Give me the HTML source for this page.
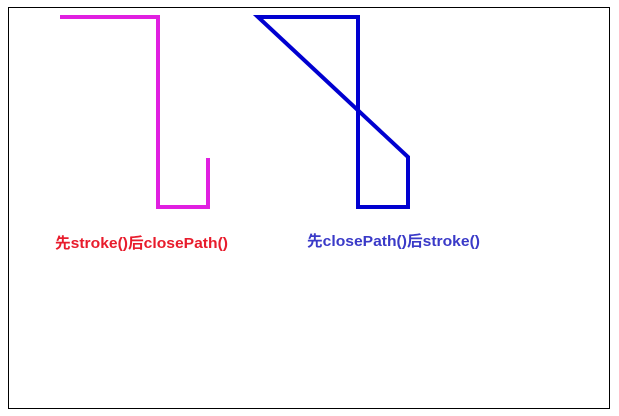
<!DOCTYPE html>
<html><head><meta charset="utf-8"><style>
html,body{margin:0;padding:0;background:#fff;width:619px;height:416px;overflow:hidden}
</style></head><body>
<svg width="619" height="416" xmlns="http://www.w3.org/2000/svg">
<rect x="8.5" y="7.5" width="601" height="401" fill="#fff" stroke="#000" stroke-width="1"/>
<polyline points="60,17 158,17 158,207 208,207 208,158" fill="none" stroke="#e020e0" stroke-width="4" stroke-linejoin="miter"/>
<polygon points="258,17 358,17 358,207 408,207 408,157" fill="none" stroke="#0000d0" stroke-width="4" stroke-linejoin="miter"/>
<text x="55" y="248" font-family="'Liberation Sans','Noto Sans CJK SC',sans-serif" font-weight="bold" font-size="15" fill="#e81c2c" textLength="173" lengthAdjust="spacingAndGlyphs">先stroke()后closePath()</text>
<text x="307" y="246" font-family="'Liberation Sans','Noto Sans CJK SC',sans-serif" font-weight="bold" font-size="15" fill="#3a3ac8" textLength="173" lengthAdjust="spacingAndGlyphs">先closePath()后stroke()</text>
</svg>
</body></html>
